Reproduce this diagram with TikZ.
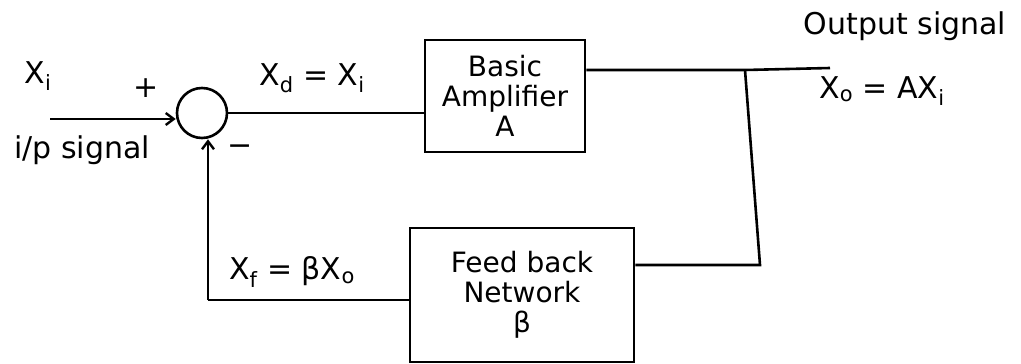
\documentclass[tikz,border=0pt]{standalone}
\usepackage{fontspec}
\setmainfont{DejaVu Sans}
\usetikzlibrary{arrows.meta}
\newcommand{\sub}[1]{\textsubscript{#1}}
\begin{document}
\begin{tikzpicture}[x=1pt,y=-1pt,
  wire/.style={line width=2.6pt},
  arr/.style={wire,-{Straight Barb[length=8pt,width=12pt,line width=2.4pt]}},
  blockbox/.style={draw,line width=2.6pt,align=center,font=\fontsize{28}{30}\selectfont,inner sep=0pt},
  lbl/.style={font=\fontsize{30}{32}\selectfont,inner sep=1pt}]
\useasboundingbox (0,0) rectangle (1021,364);
% blocks
\node[draw,circle,line width=2.6pt,minimum size=50pt] (s) at (202,113) {};
\node[blockbox,minimum width=160pt,minimum height=112pt] (amp) at (505,96) {Basic\\Amplifier\\A};
\node[blockbox,minimum width=224pt,minimum height=134pt] (fb) at (522,295) {Feed back\\Network\\β};
% coordinates
\coordinate (in) at (50,119);
\coordinate (j) at (745,70);
\coordinate (out) at (830,68);
\coordinate (c1) at (760,265);
\coordinate (c2) at (208,300);
% connectors
\draw[arr] (in) -- (s.west |- in);
\draw[wire] (s.east) -- (amp.west |- s.east);
\draw[wire] (amp.east |- j) -- (j) -- (out);
\draw[wire] (j) -- (c1) -- (fb.east |- c1);
\draw[wire] (fb.west |- c2) -- (c2);
\draw[arr] (c2) -- (s.south -| c2);
% labels
\node[lbl] (xi) at (38,76) {X\sub{i}};
\node[lbl] (plus) at (146,88) {+};
\node[lbl] (minus) at (240,150) {−};
\node[lbl] (ips) at (82,150) {i/p signal};
\node[lbl] (xd) at (312,78) {X\sub{d} = X\sub{i}};
\node[lbl] (os) at (905,26) {Output signal};
\node[lbl] (xo) at (882,91) {X\sub{o} = AX\sub{i}};
\node[lbl] (xf) at (292,272) {X\sub{f} = βX\sub{o}};
\end{tikzpicture}
\end{document}
